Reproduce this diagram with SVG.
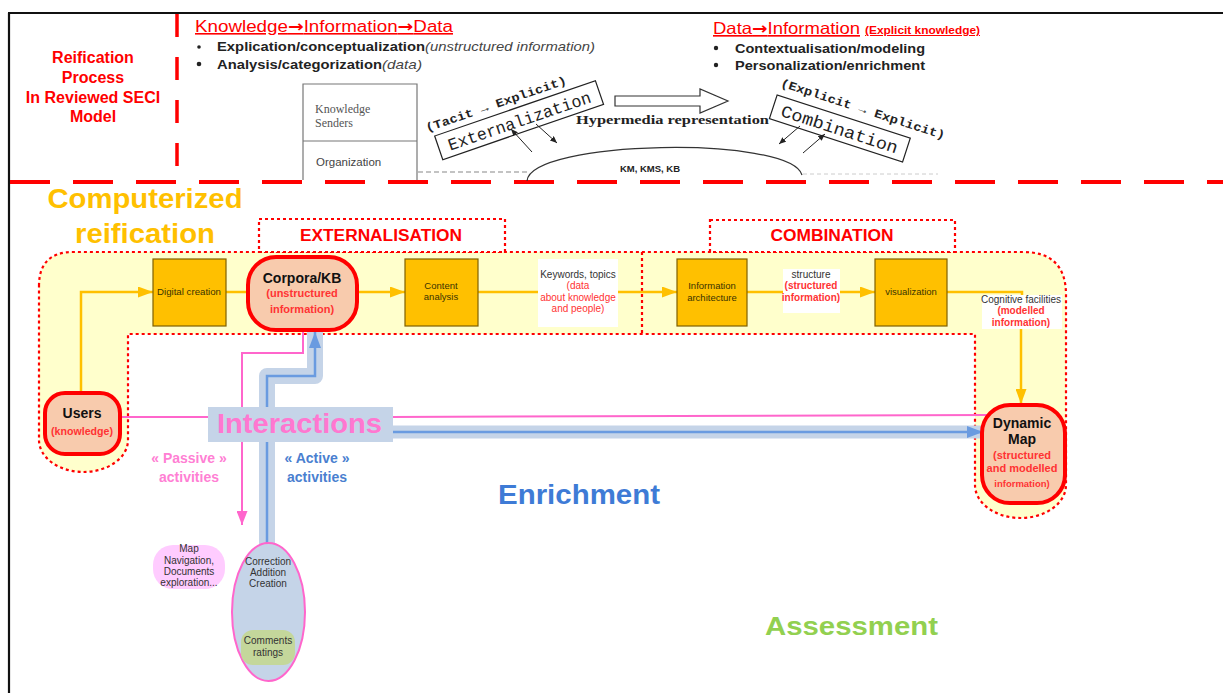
<svg xmlns="http://www.w3.org/2000/svg" width="1223" height="693" viewBox="0 0 1223 693">
<style>
text{font-family:"Liberation Sans",Arial,sans-serif}
.serif{font-family:"Liberation Serif","Times New Roman",serif}
.mono{font-family:"Liberation Mono","Courier New",monospace}
.arr{font-family:"DejaVu Sans",sans-serif;font-weight:bold}
.ttl{fill:#FF0000;font-weight:bold}
.blt{font-weight:bold;font-size:13.5px;fill:#222}
.it{font-style:italic;font-weight:normal;fill:#444}
.box{fill:#FFC000;stroke:#7F6000;stroke-width:1.2}
.btx{font-size:9.5px;fill:#3a3300;text-anchor:middle}
.node{fill:#F8CBAD;stroke:#FF0000;stroke-width:4}
.ntx{font-weight:bold;fill:#111;text-anchor:middle}
.rs{font-weight:bold;fill:#FF3333;text-anchor:middle}
.dot{fill:none;stroke:#FF0000;stroke-width:2.2;stroke-dasharray:3 3}
.wl{fill:#FFFFFF}
.lt{font-size:10px;fill:#333;text-anchor:middle}
.lr{font-size:10px;fill:#FF3333;text-anchor:middle}
.ol{fill:none;stroke:#FFC000;stroke-width:2.5}
.pl{fill:none;stroke:#FF66CC;stroke-width:2}
.bb{fill:none;stroke:#C5D4E8;stroke-linejoin:round}
.bl{fill:none;stroke:#6A9BE0;stroke-width:2.5}
.thin{fill:none;stroke:#222;stroke-width:1}
</style>
<defs>
<marker id="ao" markerUnits="userSpaceOnUse" markerWidth="15" markerHeight="11" refX="15" refY="5.5" orient="auto"><path d="M0,0 L15,5.5 L0,11 z" fill="#FFC000"/></marker>
<marker id="ap" markerUnits="userSpaceOnUse" markerWidth="14" markerHeight="11" refX="14" refY="5.5" orient="auto"><path d="M0,0 L14,5.5 L0,11 z" fill="#FF66CC"/></marker>
<marker id="ab" markerUnits="userSpaceOnUse" markerWidth="16" markerHeight="12" refX="16" refY="6" orient="auto"><path d="M0,0 L16,6 L0,12 z" fill="#6A9BE0"/></marker>
<marker id="ak" markerUnits="userSpaceOnUse" markerWidth="7" markerHeight="6" refX="7" refY="3" orient="auto"><path d="M0,0 L7,3 L0,6 z" fill="#222"/></marker>
</defs>
<rect width="1223" height="693" fill="#FFFFFF"/>

<g id="frame">
<line x1="8" y1="13" x2="1223" y2="13" stroke="#111" stroke-width="2.2"/>
<line x1="9" y1="13" x2="9" y2="693" stroke="#111" stroke-width="2.2"/>
<line x1="177" y1="14" x2="177" y2="180" stroke="#FF0000" stroke-width="3.5" stroke-dasharray="23 20"/>
<line x1="10" y1="182" x2="1223" y2="182" stroke="#FF0000" stroke-width="4" stroke-dasharray="40 23"/>
</g>

<g id="reification-title">
<text x="93" y="63" class="ttl" font-size="16" text-anchor="middle">Reification</text>
<text x="93" y="83" class="ttl" font-size="16" text-anchor="middle">Process</text>
<text x="93" y="103" class="ttl" font-size="16" text-anchor="middle">In Reviewed SECI</text>
<text x="93" y="122" class="ttl" font-size="16" text-anchor="middle">Model</text>
</g>

<g id="top-left-text">
<text x="195" y="32" font-size="16" fill="#FF0000" text-decoration="underline" textLength="258" lengthAdjust="spacingAndGlyphs">Knowledge<tspan class="arr">→</tspan>Information<tspan class="arr">→</tspan>Data</text>
<circle cx="199" cy="47" r="1.8" fill="#222"/>
<text x="217" y="51" class="blt"><tspan textLength="208" lengthAdjust="spacingAndGlyphs">Explication/conceptualization</tspan><tspan class="it" textLength="170" lengthAdjust="spacingAndGlyphs">(unstructured information)</tspan></text>
<circle cx="199" cy="64" r="2.3" fill="#222"/>
<text x="217" y="69" class="blt" font-size="14.5"><tspan textLength="165" lengthAdjust="spacingAndGlyphs">Analysis/categorization</tspan><tspan class="it" textLength="40" lengthAdjust="spacingAndGlyphs">(data)</tspan></text>
</g>

<g id="top-right-text">
<text x="713" y="34" fill="#FF0000" text-decoration="underline"><tspan font-size="16.5" textLength="147" lengthAdjust="spacingAndGlyphs">Data<tspan class="arr">→</tspan>Information</tspan><tspan font-size="10" font-weight="bold" dx="5" textLength="115" lengthAdjust="spacingAndGlyphs">(Explicit knowledge)</tspan></text>
<circle cx="716" cy="48" r="2.2" fill="#222"/>
<text x="735" y="53" class="blt" textLength="190" lengthAdjust="spacingAndGlyphs">Contextualisation/modeling</text>
<circle cx="716" cy="65" r="2.2" fill="#222"/>
<text x="735" y="70" class="blt" textLength="190" lengthAdjust="spacingAndGlyphs">Personalization/enrichment</text>
</g>

<g id="seci-figure">
<path d="M303,180 L303,84 L417,84 L417,180 M303,141 L417,141" fill="none" stroke="#777" stroke-width="1.2"/>
<text x="315" y="113" class="serif" font-size="12" fill="#555">Knowledge</text>
<text x="315" y="127" class="serif" font-size="12" fill="#555">Senders</text>
<text x="316" y="166" font-size="11.5" fill="#444">Organization</text>
<line x1="418" y1="172" x2="527" y2="172" stroke="#888" stroke-width="1.2" stroke-dasharray="5 3"/>
<path d="M527,181 C530,140 790,135 802,175" fill="none" stroke="#333" stroke-width="1.2"/>
<line x1="803" y1="174" x2="938" y2="174" stroke="#ccc" stroke-width="1" stroke-dasharray="4 3"/>
<text x="650" y="172" font-size="9.5" font-weight="bold" fill="#222" text-anchor="middle">KM, KMS, KB</text>
<g transform="rotate(-19 518 120)">
<rect x="434" y="108" width="170" height="25" fill="#FFFFFF" stroke="#222" stroke-width="1.2"/>
<text x="519" y="127" class="mono" font-size="17" fill="#222" text-anchor="middle" textLength="150" lengthAdjust="spacingAndGlyphs">Externalization</text>
</g>
<text x="496" y="108" class="mono" font-size="12" font-weight="bold" fill="#222" text-anchor="middle" textLength="148" lengthAdjust="spacingAndGlyphs" transform="rotate(-19 496 104)">(Tacit → Explicit)</text>
<polygon points="615,96 700,96 700,89 728,101 700,113 700,106 615,106" fill="#FFFFFF" stroke="#333" stroke-width="1.2"/>
<text x="576" y="124" class="serif" font-size="11.5" font-weight="bold" fill="#222" textLength="193" lengthAdjust="spacingAndGlyphs">Hypermedia representation</text>
<line x1="532" y1="152" x2="511" y2="129" class="thin" marker-end="url(#ak)"/>
<line x1="536" y1="124" x2="557" y2="143" class="thin" marker-end="url(#ak)"/>
<g transform="rotate(18 840 128)">
<rect x="770" y="116" width="140" height="25" fill="#FFFFFF" stroke="#222" stroke-width="1.2"/>
<text x="840" y="135" class="mono" font-size="17" fill="#222" text-anchor="middle" textLength="122" lengthAdjust="spacingAndGlyphs">Combination</text>
</g>
<text x="863" y="113" class="mono" font-size="12" font-weight="bold" fill="#222" text-anchor="middle" textLength="172" lengthAdjust="spacingAndGlyphs" transform="rotate(18 863 109)">(Explicit → Explicit)</text>
<line x1="800" y1="126" x2="779" y2="144" class="thin" marker-end="url(#ak)"/>
<line x1="803" y1="153" x2="825" y2="134" class="thin" marker-end="url(#ak)"/>
</g>

<g id="computerized-title">
<text x="145" y="208" font-size="27" font-weight="bold" fill="#FFC000" text-anchor="middle" textLength="195" lengthAdjust="spacingAndGlyphs">Computerized</text>
<text x="145" y="243" font-size="27" font-weight="bold" fill="#FFC000" text-anchor="middle" textLength="140" lengthAdjust="spacingAndGlyphs">reification</text>
</g>

<g id="process-band">
<path d="M39,286 Q39,252 73,252 L1023,252 Q1066,252 1066,295 L1066,485 A45.5 33 0 0 1 975,485 L975,334 L128,334 L128,440 A44.5 32 0 0 1 39,440 Z" fill="#FFFFCC" stroke="#FF0000" stroke-width="2.2" stroke-dasharray="3 3"/>
<line x1="642" y1="252" x2="642" y2="334" class="dot"/>
</g>

<g id="externalisation-phase">
<rect x="259" y="219" width="246" height="33" class="dot" style="fill:#FFFFFF"/>
<text x="381" y="241" class="ttl" font-size="16" text-anchor="middle" textLength="162" lengthAdjust="spacingAndGlyphs">EXTERNALISATION</text>
</g>
<g id="combination-phase">
<rect x="710" y="220" width="245" height="32" class="dot" style="fill:#FFFFFF"/>
<text x="832" y="241" class="ttl" font-size="16" text-anchor="middle" textLength="123" lengthAdjust="spacingAndGlyphs">COMBINATION</text>
</g>

<g id="connectors">
<path class="ol" d="M81,394 L81,292 L153,292" marker-end="url(#ao)"/>
<path class="ol" d="M226,292 L248,292"/>
<path class="ol" d="M357,292 L405,292" marker-end="url(#ao)"/>
<path class="ol" d="M478,292 L538,292"/>
<path class="ol" d="M618,292 L677,292" marker-end="url(#ao)"/>
<path class="ol" d="M747,292 L783,292"/>
<path class="ol" d="M840,292 L875,292" marker-end="url(#ao)"/>
<path class="ol" d="M947,292 L1022,292 L1022,300"/>
<path class="ol" d="M1021,328 L1021,404" marker-end="url(#ao)"/>
<path class="bb" stroke-width="16" d="M267,546 L267,376 L315,376 L315,332"/>
<path class="bb" stroke-width="13" d="M393,432 L981,432"/>
<path class="pl" d="M120,417 L210,417"/>
<path class="pl" d="M390,417 L988,415"/>
<path class="pl" d="M303,331 L303,353 L242,353 L242,525" marker-end="url(#ap)"/>
<path class="bl" d="M267,545 L267,376 L315,376 L315,332" marker-end="url(#ab)"/>
<path class="bl" d="M393,432 L983,432" marker-end="url(#ab)"/>
</g>

<g id="users">
<rect x="45" y="393" width="75" height="61" rx="20" class="node"/>
<text x="82" y="418" class="ntx" font-size="14">Users</text>
<text x="82" y="435" class="rs" font-size="10" textLength="62" lengthAdjust="spacingAndGlyphs">(knowledge)</text>
</g>
<g id="digital-creation">
<rect x="153" y="259" width="73" height="67" class="box"/>
<text x="189" y="295" class="btx" textLength="64" lengthAdjust="spacingAndGlyphs">Digital creation</text>
</g>
<g id="corpora-kb">
<rect x="248" y="257" width="109" height="73" rx="28" class="node"/>
<text x="302" y="283" class="ntx" font-size="14">Corpora/KB</text>
<text x="302" y="297" class="rs" font-size="11">(unstructured</text>
<text x="302" y="313" class="rs" font-size="11">information)</text>
</g>
<g id="content-analysis">
<rect x="405" y="259" width="73" height="67" class="box"/>
<text x="441" y="289" class="btx">Content</text>
<text x="441" y="300" class="btx">analysis</text>
</g>
<g id="keywords-label">
<rect x="538" y="259" width="80" height="68" class="wl"/>
<text x="578" y="278" class="lt">Keywords, topics</text>
<text x="578" y="289" class="lr">(data</text>
<text x="578" y="301" class="lr">about knowledge</text>
<text x="578" y="312" class="lr">and people)</text>
</g>
<g id="information-architecture">
<rect x="677" y="259" width="70" height="67" class="box"/>
<text x="712" y="289" class="btx">Information</text>
<text x="712" y="301" class="btx">architecture</text>
</g>
<g id="structure-label">
<rect x="783" y="269" width="57" height="44" class="wl"/>
<text x="811" y="278" class="lt">structure</text>
<text x="811" y="289" class="lr" font-weight="bold">(structured</text>
<text x="811" y="301" class="lr" font-weight="bold">information)</text>
</g>
<g id="visualization">
<rect x="875" y="259" width="72" height="67" class="box"/>
<text x="911" y="295" class="btx">visualization</text>
</g>
<g id="cognitive-label">
<rect x="982" y="295" width="80" height="34" class="wl"/>
<text x="1021" y="303" class="lt" font-size="9.5">Cognitive facilities</text>
<text x="1021" y="314" class="lr" font-size="9" font-weight="bold">(modelled</text>
<text x="1021" y="326" class="lr" font-size="9" font-weight="bold">information)</text>
</g>
<g id="dynamic-map">
<rect x="982" y="405" width="83" height="98" rx="28" class="node"/>
<text x="1022" y="428" class="ntx" font-size="14">Dynamic</text>
<text x="1022" y="444" class="ntx" font-size="14">Map</text>
<text x="1022" y="459" class="rs" font-size="11">(structured</text>
<text x="1022" y="472" class="rs" font-size="11">and modelled</text>
<text x="1022" y="487" class="rs" font-size="9.5">information)</text>
</g>
<g id="interactions">
<rect x="208" y="407" width="185" height="35" fill="#C5D4E8"/>
<text x="217" y="433" font-size="28" font-weight="bold" fill="#FF77D0" textLength="165" lengthAdjust="spacingAndGlyphs">Interactions</text>
</g>
<g id="passive-label">
<text x="189" y="463" font-size="14" font-weight="bold" fill="#FF7FD4" text-anchor="middle">« Passive »</text>
<text x="189" y="482" font-size="14" font-weight="bold" fill="#FF7FD4" text-anchor="middle">activities</text>
</g>
<g id="active-label">
<text x="317" y="463" font-size="14" font-weight="bold" fill="#4A7FD0" text-anchor="middle">« Active »</text>
<text x="317" y="482" font-size="14" font-weight="bold" fill="#4A7FD0" text-anchor="middle">activities</text>
</g>
<g id="enrichment">
<text x="498" y="504" font-size="28" font-weight="bold" fill="#3E7BD6" textLength="162" lengthAdjust="spacingAndGlyphs">Enrichment</text>
</g>
<g id="assessment">
<text x="765" y="635" font-size="26" font-weight="bold" fill="#92D050" textLength="173" lengthAdjust="spacingAndGlyphs">Assessment</text>
</g>
<g id="map-navigation">
<rect x="153" y="545" width="72" height="44" rx="20" fill="#FFCCFF"/>
<text x="189" y="552" class="lt">Map</text>
<text x="189" y="564" class="lt">Navigation,</text>
<text x="189" y="575" class="lt">Documents</text>
<text x="189" y="586" class="lt">exploration...</text>
</g>
<g id="active-activities">
<ellipse cx="268.5" cy="612" rx="36.5" ry="69" fill="#C5D4E8" stroke="#FF66CC" stroke-width="2"/>
<text x="268" y="565" class="lt">Correction</text>
<text x="268" y="576" class="lt">Addition</text>
<text x="268" y="587" class="lt">Creation</text>
<rect x="241" y="630" width="54" height="35" rx="12" fill="#C4D79B"/>
<text x="268" y="644" class="lt">Comments</text>
<text x="268" y="656" class="lt" font-size="9.5">ratings</text>
</g>
</svg>
